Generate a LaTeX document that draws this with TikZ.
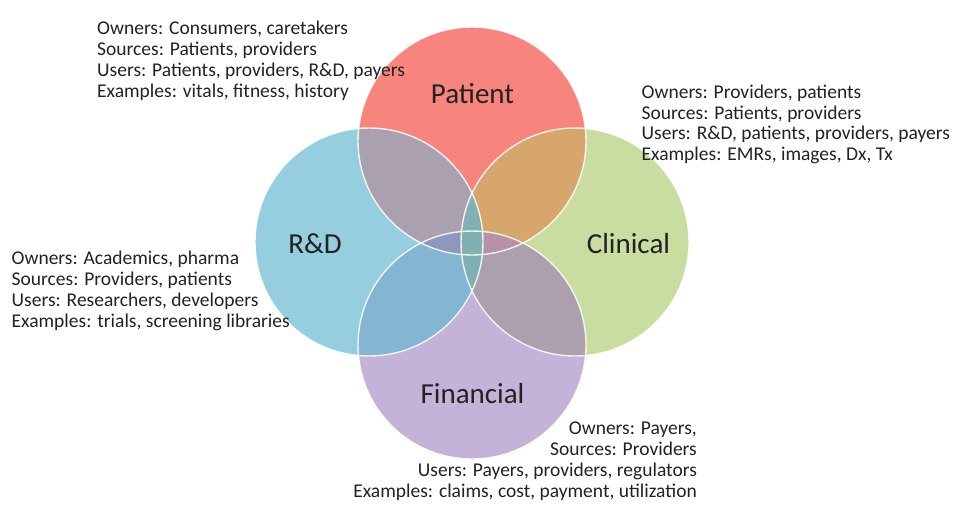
\documentclass[tikz,border=0pt]{standalone}
\usepackage{fontspec}
\setmainfont{Carlito}
\definecolor{colP}{RGB}{248,132,126}
\definecolor{colR}{RGB}{149,206,222}
\definecolor{colC}{RGB}{202,221,160}
\definecolor{colF}{RGB}{196,178,216}
\definecolor{colPR}{RGB}{170,160,176}
\definecolor{colPC}{RGB}{214,166,108}
\definecolor{colRF}{RGB}{132,181,210}
\definecolor{colCF}{RGB}{172,160,174}
\definecolor{colPRF}{RGB}{140,152,190}
\definecolor{colPCF}{RGB}{182,146,166}
\definecolor{colRC}{RGB}{128,176,178}
\definecolor{txt}{RGB}{34,34,34}
\tikzset{
  info/.style={font=\fontsize{19.5}{20.7}\selectfont, text=txt, inner sep=0pt, align=left},
  inforight/.style={font=\fontsize{19.5}{20.7}\selectfont, text=txt, inner sep=0pt, align=right},
  label/.style={font=\fontsize{29}{30}\selectfont, text=txt, inner sep=0pt, anchor=base},
  rim/.style={draw=white, line width=1.4pt, opacity=0.85}
}
\begin{document}
\begin{tikzpicture}[x=1pt,y=-1pt]
\useasboundingbox (0,0) rectangle (955,504);
\def\r{114}
\coordinate (cP) at (472,141);
\coordinate (cR) at (369,242);
\coordinate (cC) at (575,242);
\coordinate (cF) at (472,345);
% solo circles
\fill[colP] (cP) circle[radius=\r];
\fill[colR] (cR) circle[radius=\r];
\fill[colC] (cC) circle[radius=\r];
\fill[colF] (cF) circle[radius=\r];
% pairwise overlaps
\begin{scope}\clip (cP) circle[radius=\r]; \fill[colPR] (cR) circle[radius=\r];\end{scope}
\begin{scope}\clip (cP) circle[radius=\r]; \fill[colPC] (cC) circle[radius=\r];\end{scope}
\begin{scope}\clip (cR) circle[radius=\r]; \fill[colRF] (cF) circle[radius=\r];\end{scope}
\begin{scope}\clip (cC) circle[radius=\r]; \fill[colCF] (cF) circle[radius=\r];\end{scope}
% triple overlaps
\begin{scope}\clip (cP) circle[radius=\r]; \clip (cR) circle[radius=\r]; \fill[colPRF] (cF) circle[radius=\r];\end{scope}
\begin{scope}\clip (cP) circle[radius=\r]; \clip (cC) circle[radius=\r]; \fill[colPCF] (cF) circle[radius=\r];\end{scope}
\begin{scope}\clip (cR) circle[radius=\r]; \fill[colRC] (cC) circle[radius=\r];\end{scope}
% rims
\draw[rim] (cP) circle[radius=\r];
\draw[rim] (cR) circle[radius=\r];
\draw[rim] (cC) circle[radius=\r];
\draw[rim] (cF) circle[radius=\r];
% circle labels
\node[label] (lP) at (472.5,103) {Patient};
\node[label] (lR) at (315,253) {R\&D};
\node[label] (lC) at (628.5,253) {Clinical};
\node[label] (lF) at (472.5,403) {Financial};
% info texts (anchor at baseline of the last line)
\node[info, anchor=base west] (iP) at (97,97) {Owners: Consumers, caretakers\\Sources: Patients, providers\\Users: Patients, providers, R\&D, payers\\Examples: vitals, fitness, history};
\node[info, anchor=base west] (iC) at (641.5,160.5) {Owners: Providers, patients\\Sources: Patients, providers\\Users: R\&D, patients, providers, payers\\Examples: EMRs, images, Dx, Tx};
\node[info, anchor=base west] (iR) at (11.5,327) {Owners: Academics, pharma\\Sources: Providers, patients\\Users: Researchers, developers\\Examples: trials, screening libraries};
\node[inforight, anchor=base east] (iF) at (697,497) {Owners: Payers,\\Sources: Providers\\Users: Payers, providers, regulators\\Examples: claims, cost, payment, utilization};
\end{tikzpicture}
\end{document}
